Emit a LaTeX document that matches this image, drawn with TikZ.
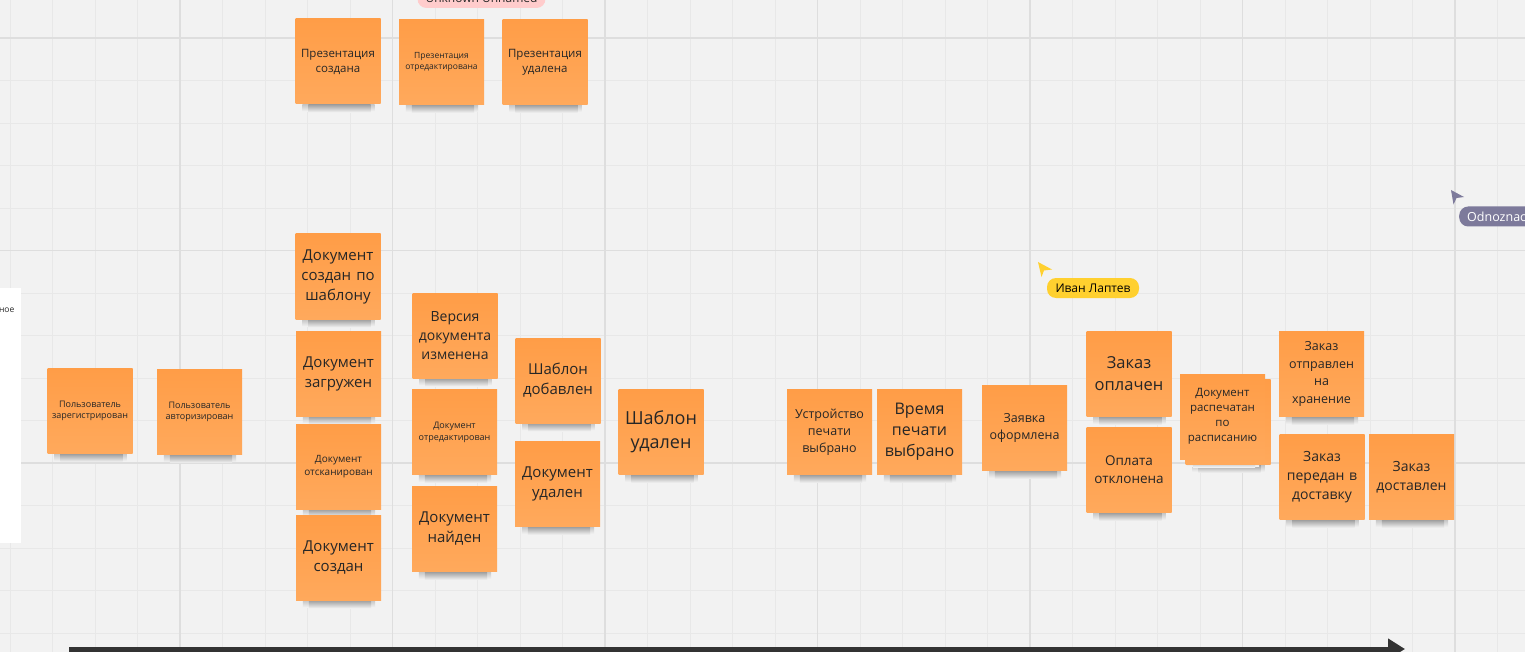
\documentclass[tikz,border=0pt]{standalone}
\usepackage{fontspec}
\setmainfont{Open Sans}
\usetikzlibrary{arrows.meta}
\pgfdeclarelayer{gridlayer}
\pgfdeclarelayer{shadowlayer}
\pgfsetlayers{gridlayer,shadowlayer,main}
\definecolor{bgc}{HTML}{F2F2F2}
\definecolor{gridminor}{HTML}{E8E8E8}
\definecolor{gridmajor}{HTML}{DEDEDE}
\definecolor{stickTop}{HTML}{FF9D47}
\definecolor{stickBot}{HTML}{FFA95C}
\definecolor{stickText}{HTML}{262626}
\definecolor{shadowc}{HTML}{9C9C9C}
\definecolor{shadowsoft}{HTML}{C4C4C4}
\definecolor{pinkpill}{HTML}{FFCCCC}
\definecolor{yellowpill}{HTML}{FFD02F}
\definecolor{graypill}{HTML}{7D7A9B}
\definecolor{arrowc}{HTML}{333333}
\tikzset{
  sticky/.style={rectangle, minimum width=85pt, minimum height=85pt, inner sep=0pt,
    top color=stickTop, bottom color=stickBot, text=stickText, align=center, text width=82pt},
  shadowmain/.style={top color=shadowc, bottom color=bgc, draw=none},
  shadowedge/.style={top color=shadowsoft, bottom color=bgc, draw=none},
  pill/.style={rectangle, rounded corners=9pt, minimum height=20pt, inner xsep=8pt, inner ysep=0pt,
    font=\fontsize{12}{14}\selectfont},
  timeline/.style={line width=5pt, draw=arrowc, -{Triangle[length=17pt,width=20pt]}},
  minorline/.style={draw=gridminor, line width=0.8pt},
  majorline/.style={draw=gridmajor, line width=1.3pt},
}
\newcommand\stshadow[1]{%
  \begin{pgfonlayer}{shadowlayer}
    \shade[shadowedge] ([xshift=7pt]#1.south west) rectangle ([xshift=-6pt,yshift=-7pt]#1.south east);
    \shade[shadowmain] ([xshift=13pt]#1.south west) rectangle ([xshift=-10pt,yshift=-8pt]#1.south east);
  \end{pgfonlayer}}
\newcommand\stk[6]{%
  \node[sticky, font=\fontsize{#4}{#5}\selectfont] (#1) at (#2,#3) {#6};
  \stshadow{#1}}
\begin{document}
\begin{tikzpicture}[x=1pt,y=-1pt]
\useasboundingbox (0,0) rectangle (1525,652);
\clip (0,0) rectangle (1525,652);
\begin{pgfonlayer}{gridlayer}
  \fill[bgc] (0,0) rectangle (1525,652);
  \foreach \k in {0,...,35} \draw[minorline] ({10+42.5*\k},0) -- ({10+42.5*\k},652);
  \foreach \k in {0,...,14} \draw[minorline] (0,{38+42.5*\k}) -- (1525,{38+42.5*\k});
  \foreach \xx in {180,392.5,605,817.5,1030,1242.5,1455} \draw[majorline] (\xx,0) -- (\xx,652);
  \foreach \yy in {38,250.5,463} \draw[majorline] (0,\yy) -- (1525,\yy);
\end{pgfonlayer}

% left white panel
\fill[white] (-5,288) rectangle (21,543);
\node[anchor=east, inner sep=0pt, text=stickText, font=\fontsize{8.5}{10}\selectfont] (panel) at (14.5,310) {ное};

% top pill
\node[pill, fill=pinkpill, text=stickText, minimum width=127pt, font=\fontsize{12}{14}\selectfont] (unk) at (481.5,-2) {Unknown Unnamed};

% stickies
\stk{p1}{338}{61.5}{11.5}{15}{Презентация\\создана}
\stk{p2}{441.5}{62}{8.5}{10.7}{Презентация\\отредактирована}
\stk{p3}{545}{62}{11.5}{15}{Презентация\\удалена}

\stk{u1}{90}{411}{9}{11.7}{Пользователь\\зарегистрирован}
\stk{u2}{199.5}{412}{9}{11.7}{Пользователь\\авторизирован}

\stk{d1}{338}{276.5}{15}{20}{Документ\\создан по\\шаблону}
\stk{d2}{338.5}{373.5}{15}{20}{Документ\\загружен}
\stk{d3}{338.5}{466.5}{10}{13}{Документ\\отсканирован}
\stk{d4}{338.5}{557.5}{15}{20}{Документ\\создан}

\stk{v1}{455}{335.5}{14}{18.7}{Версия\\документа\\изменена}
\stk{v2}{454.5}{432}{9}{12}{Документ\\отредактирован}
\stk{v3}{454.5}{529}{15}{20}{Документ\\найден}

\stk{t1}{558}{380.5}{15}{20}{Шаблон\\добавлен}
\stk{t2}{557.5}{484}{15}{20}{Документ\\удален}
\stk{t3}{661}{432}{18}{23.5}{Шаблон\\удален}

\stk{o1}{829.5}{432}{12.5}{17}{Устройство\\печати\\выбрано}
\stk{o2}{919.5}{432}{16}{21}{Время\\печати\\выбрано}
\stk{o3}{1024.5}{428}{12.5}{17}{Заявка\\оформлена}
\stk{o4}{1129}{374}{16.5}{22}{Заказ\\оплачен}
\stk{o5}{1129}{470}{13.5}{18}{Оплата\\отклонена}
\stk{o6b}{1228}{422}{11.5}{15}{}
\stk{o6}{1222.5}{416.5}{11.5}{15}{Документ\\распечатан\\по\\расписанию}
\stk{o7}{1321.5}{374}{12.5}{17.5}{Заказ\\отправлен\\на\\хранение}
\stk{o8}{1322}{477}{14}{19}{Заказ\\передан в\\доставку}
\stk{o9}{1411.5}{477}{14}{19}{Заказ\\доставлен}

% cursors
\fill[yellowpill] (1038,262) -- (1052,269.5) -- (1044,270.5) -- (1041.5,277) -- cycle;
\node[pill, fill=yellowpill, text=black, minimum width=92pt] (ivan) at (1093,288) {Иван Лаптев};
\fill[graypill] (1451,190) -- (1464,197) -- (1456.5,198) -- (1453.5,204.5) -- cycle;
\node[pill, fill=graypill, text=white, anchor=west, text width=80pt, align=left,
  font=\fontsize{12.5}{14}\selectfont] (odn) at (1459,216.5) {Odnoznac};

% timeline
\coordinate (tl0) at (69,649);
\coordinate (tl1) at (1405,649);
\draw[timeline] (tl0) -- (tl1);
\end{tikzpicture}
\end{document}
